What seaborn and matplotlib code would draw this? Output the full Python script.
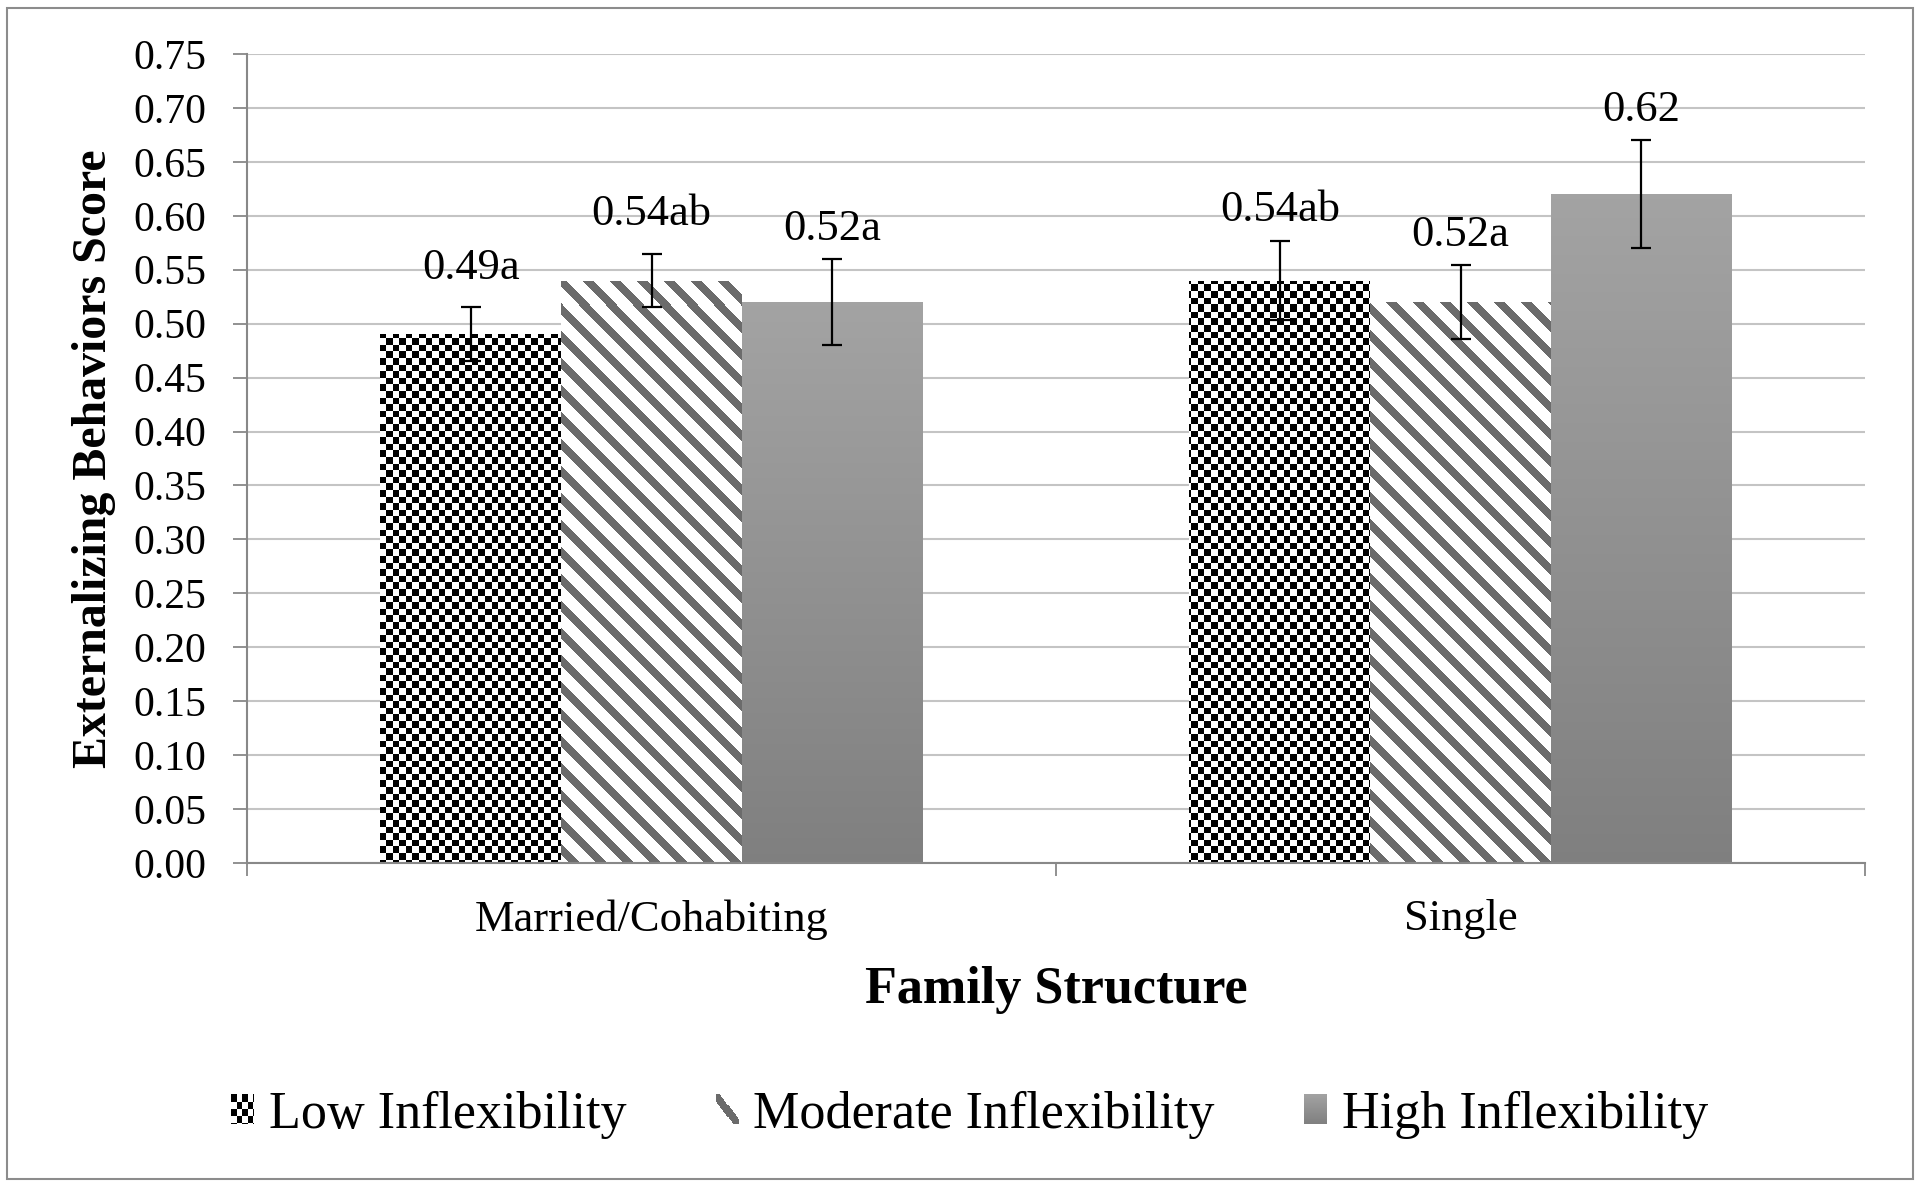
import numpy as np
import pandas as pd
import matplotlib
matplotlib.use("Agg")
import matplotlib.pyplot as plt
import seaborn as sns
from matplotlib.legend_handler import HandlerBase
from matplotlib.image import BboxImage
from matplotlib.transforms import Bbox, TransformedBbox
from matplotlib.patches import Rectangle, Patch
from matplotlib.container import BarContainer

# ---------------- data ----------------
categories = ["Married/Cohabiting", "Single"]
groups = ["Low Inflexibility", "Moderate Inflexibility", "High Inflexibility"]
low_vals = [0.49, 0.54]
mod_vals = [0.54, 0.52]
high_vals = [0.52, 0.62]
low_err = [0.025, 0.037]
mod_err = [0.025, 0.034]
high_err = [0.040, 0.050]
low_labels = ["0.49a", "0.54ab"]
mod_labels = ["0.54ab", "0.52a"]
high_labels = ["0.52a", "0.62"]
y_ticks = [0.00, 0.05, 0.10, 0.15, 0.20, 0.25, 0.30, 0.35, 0.40, 0.45, 0.50,
           0.55, 0.60, 0.65, 0.70, 0.75]

df = pd.DataFrame({
    "Family Structure": categories * 3,
    "Group": [groups[0]] * 2 + [groups[1]] * 2 + [groups[2]] * 2,
    "Score": low_vals + mod_vals + high_vals,
})
errs = [low_err, mod_err, high_err]
labels = [low_labels, mod_labels, high_labels]

# ---------------- style ----------------
plt.rcParams["font.family"] = ["Liberation Serif", "DejaVu Serif"]
W, H = 1920, 1187
fig = plt.figure(figsize=(W / 100, H / 100), dpi=100)
ax_l, ax_r, ax_t, ax_b = 247, 1865, 54, 863
ax = fig.add_axes([ax_l / W, 1 - ax_b / H, (ax_r - ax_l) / W, (ax_b - ax_t) / H])

sns.barplot(data=df, x="Family Structure", y="Score", hue="Group",
            hue_order=groups, order=categories, errorbar=None,
            palette=["white", "white", "#8f8f8f"], width=0.67, gap=0,
            linewidth=0, edgecolor="none", legend=False, ax=ax, zorder=1)

bar_conts = [c for c in ax.containers if isinstance(c, BarContainer)]

# ---------------- textures ----------------
AW, AH = ax_r - ax_l, ax_b - ax_t
ii, jj = np.mgrid[0:AH, 0:AW]
cell = 6.6
checker = (((ii / cell).astype(int) + (jj / cell).astype(int)) % 2).astype(float)
checker_rgb = np.dstack([checker] * 3)
period, thick = 27, 11
stripe = np.where(((jj - ii) % period) < thick, 0.42, 1.0)
stripe_rgb = np.dstack([stripe] * 3)
grad = np.linspace(0.64, 0.50, 256)[:, None] * np.ones((256, 4))
grad_rgb = np.dstack([grad] * 3)

for k, cont in enumerate(bar_conts):
    for bar in cont.patches:
        if k == 0:
            im = ax.imshow(checker_rgb, extent=(0, 1, 0, 1), transform=ax.transAxes,
                           interpolation="nearest", aspect="auto", zorder=1.5)
        elif k == 1:
            im = ax.imshow(stripe_rgb, extent=(0, 1, 0, 1), transform=ax.transAxes,
                           interpolation="nearest", aspect="auto", zorder=1.5)
        else:
            x0, w, h = bar.get_x(), bar.get_width(), bar.get_height()
            im = ax.imshow(grad_rgb, extent=(x0, x0 + w, 0, h),
                           interpolation="bilinear", aspect="auto", zorder=1.5)
        im.set_clip_path(bar)

# ---------------- error bars & labels ----------------
for k, cont in enumerate(bar_conts):
    xs = [b.get_x() + b.get_width() / 2 for b in cont.patches]
    ys = [b.get_height() for b in cont.patches]
    ax.errorbar(xs, ys, yerr=errs[k], fmt="none", ecolor="black",
                elinewidth=1.6, capsize=7, capthick=1.6, zorder=3)
    for x, y, e, lab in zip(xs, ys, errs[k], labels[k]):
        ly = max(y + 0.062, y + e + 0.028)
        ax.text(x, ly, lab, ha="center", va="center", fontsize=32,
                color="black", zorder=4)

# ---------------- axes ----------------
ax.set_ylim(0, 0.75)
ax.set_xlim(-0.5, 1.5)
ax.set_yticks(y_ticks)
ax.set_yticklabels([f"{v:.2f}" for v in y_ticks])
ax.set_xticks([-0.5, 0.5, 1.5])
ax.set_xticklabels(["", "", ""])
ax.set_xticks([0, 1], minor=True)
ax.set_xticklabels(categories, minor=True)
ax.tick_params(axis="y", direction="out", length=10, width=1.3, color="#888888",
               labelsize=30, pad=19)
ax.tick_params(axis="x", which="major", direction="out", length=9, width=1.3,
               color="#888888")
ax.tick_params(axis="x", which="minor", length=0, labelsize=32, pad=26)
ax.set_axisbelow(True)
ax.yaxis.grid(True, color="#c4c4c4", lw=1.5)
ax.xaxis.grid(False)
for s in ["top", "right"]:
    ax.spines[s].set_visible(False)
for s in ["left", "bottom"]:
    ax.spines[s].set_color("#888888")
    ax.spines[s].set_linewidth(1.5)
ax.set_facecolor("white")

ax.set_ylabel("Externalizing Behaviors Score", fontsize=34.5, fontweight="bold", va="center")
ax.yaxis.set_label_coords(-0.0946, 0.5)
ax.set_xlabel("Family Structure", fontsize=37.5, fontweight="bold", va="center")
ax.xaxis.set_label_coords(0.5, -0.157)


# ---------------- legend ----------------
class ImageHandler(HandlerBase):
    def __init__(self, arr, interp="nearest"):
        super().__init__()
        self.arr = arr
        self.interp = interp

    def create_artists(self, legend, orig_handle, xdescent, ydescent, width, height,
                       fontsize, trans):
        bb = TransformedBbox(Bbox.from_bounds(-xdescent, -ydescent, width, height), trans)
        im = BboxImage(bb, interpolation=self.interp)
        im.set_data(self.arr)
        return [im]


li, lj = np.mgrid[0:22, 0:22]
lg_checker_v = (((li / 5.2).astype(int) + (lj / 5.2).astype(int)) % 2).astype(float)
lg_checker = np.dstack([lg_checker_v] * 3)
lg_stripe_v = np.where(((lj - li + 5) % period) < thick - 2, 0.42, 1.0)
lg_stripe = np.dstack([lg_stripe_v] * 3)
lg_grad = grad_rgb

handles = [Patch(facecolor="white", label=g) for g in groups]
leg = fig.legend(handles=handles, labels=groups, loc="center",
                 bbox_to_anchor=(0.505, 0.061), ncol=3, frameon=False,
                 fontsize=37.5, handlelength=0.44, handleheight=0.5,
                 handletextpad=0.28, columnspacing=1.72,
                 handler_map={handles[0]: ImageHandler(lg_checker),
                              handles[1]: ImageHandler(lg_stripe),
                              handles[2]: ImageHandler(lg_grad, "bilinear")})

# ---------------- frame ----------------
fig.add_artist(Rectangle((7 / W, 8 / H), (1913 - 7) / W, (1179 - 8) / H,
                         transform=fig.transFigure, fill=False,
                         edgecolor="#8c8c8c", lw=1.5))

fig.savefig("out.png", dpi=100, facecolor="white")
